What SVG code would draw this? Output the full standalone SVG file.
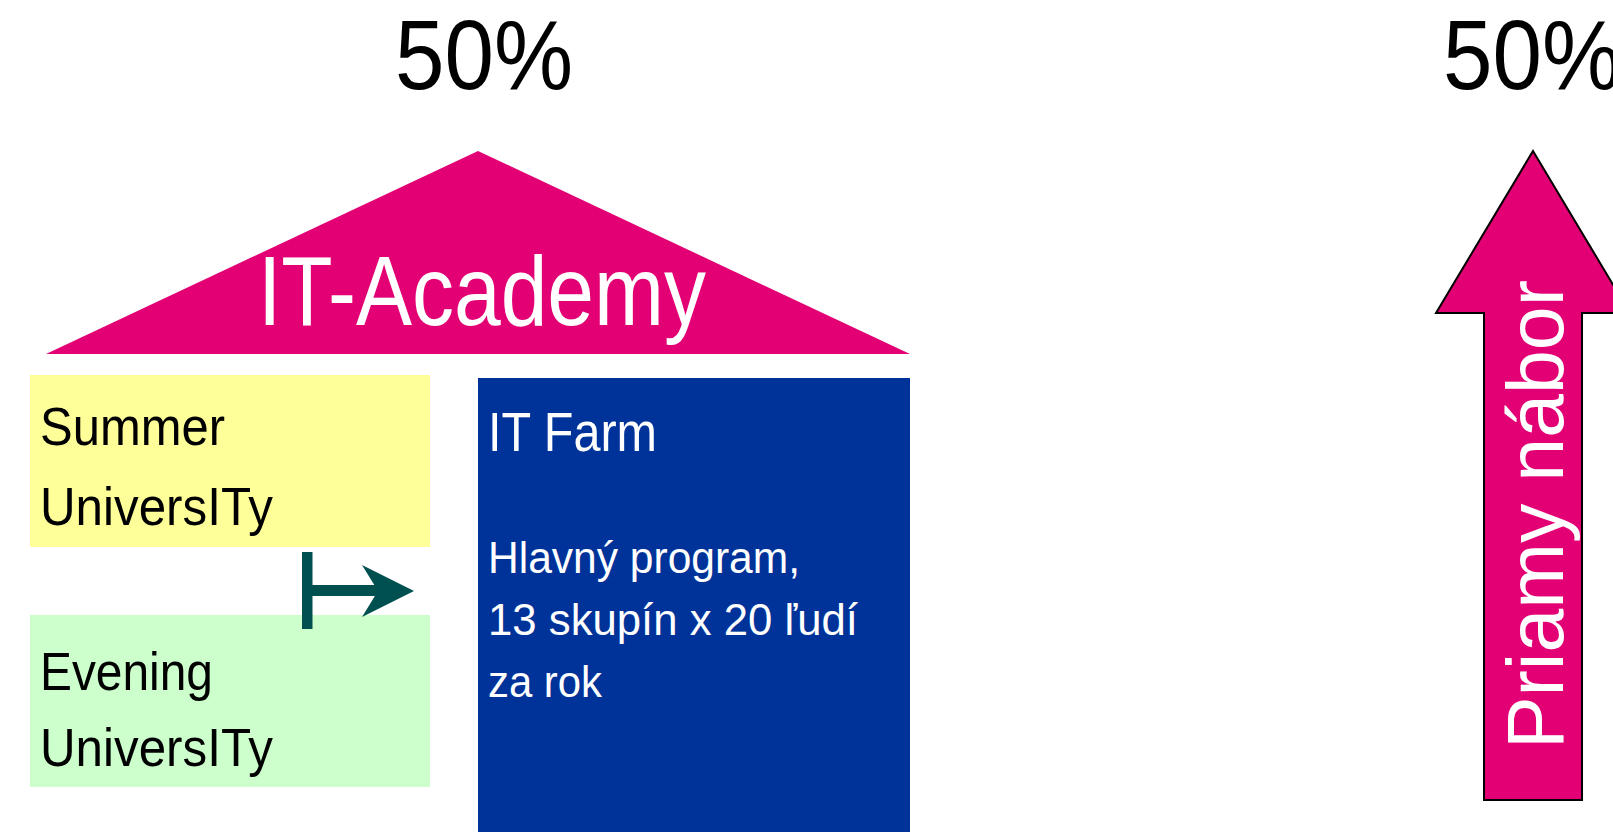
<svg xmlns="http://www.w3.org/2000/svg" width="1613" height="832" viewBox="0 0 1613 832">
<style>
.t{font-family:"Liberation Sans",Arial,sans-serif}
.blk{fill:#000}
.wht{fill:#fff}
</style>
<rect width="1613" height="832" fill="#fff"/>
<g id="pct-left"><text class="t blk" x="395" y="89" font-size="98" textLength="178" lengthAdjust="spacingAndGlyphs">50%</text></g>
<g id="pct-right"><text class="t blk" x="1443" y="89" font-size="98" textLength="178" lengthAdjust="spacingAndGlyphs">50%</text></g>
<g id="it-academy">
<polygon points="478,151 910,354 46,354" fill="#E20074"/>
<text class="t wht" x="258" y="325" font-size="99" textLength="448" lengthAdjust="spacingAndGlyphs">IT-Academy</text>
</g>
<g id="summer">
<rect x="30" y="375" width="400" height="172" fill="#FFFF99"/>
<text class="t blk" x="40" y="445" font-size="54" textLength="185" lengthAdjust="spacingAndGlyphs">Summer</text>
<text class="t blk" x="40" y="525" font-size="54" textLength="233" lengthAdjust="spacingAndGlyphs">UniversITy</text>
</g>
<g id="evening">
<rect x="30" y="615" width="400" height="172" fill="#CCFFCC"/>
<text class="t blk" x="40" y="690" font-size="54" textLength="173" lengthAdjust="spacingAndGlyphs">Evening</text>
<text class="t blk" x="40" y="766" font-size="54" textLength="233" lengthAdjust="spacingAndGlyphs">UniversITy</text>
</g>
<g id="it-farm">
<rect x="478" y="378" width="432" height="454" fill="#003399"/>
<text class="t wht" x="488" y="451" font-size="56" textLength="169" lengthAdjust="spacingAndGlyphs">IT Farm</text>
<text class="t wht" x="488" y="573" font-size="44" textLength="312" lengthAdjust="spacingAndGlyphs">Hlavný program,</text>
<text class="t wht" x="488" y="635" font-size="44" textLength="370" lengthAdjust="spacingAndGlyphs">13 skupín x 20 ľudí</text>
<text class="t wht" x="488" y="697" font-size="44" textLength="114" lengthAdjust="spacingAndGlyphs">za rok</text>
</g>
<g id="priamy-nabor">
<polygon points="1533,151 1630,313 1582,313 1582,800 1484,800 1484,313 1436,313" fill="#E20074" stroke="#000" stroke-width="2"/>
<text class="t wht" transform="translate(1563,749) rotate(-90)" x="0" y="0" font-size="79" textLength="469" lengthAdjust="spacingAndGlyphs">Priamy nábor</text>
</g>
<g id="connectors">
<rect x="302" y="552" width="10.5" height="77" fill="#005050"/>
<rect x="312" y="585" width="68" height="11" fill="#005050"/>
<polygon points="362,565 414,591 362,617 378,591" fill="#005050"/>
</g>
</svg>
